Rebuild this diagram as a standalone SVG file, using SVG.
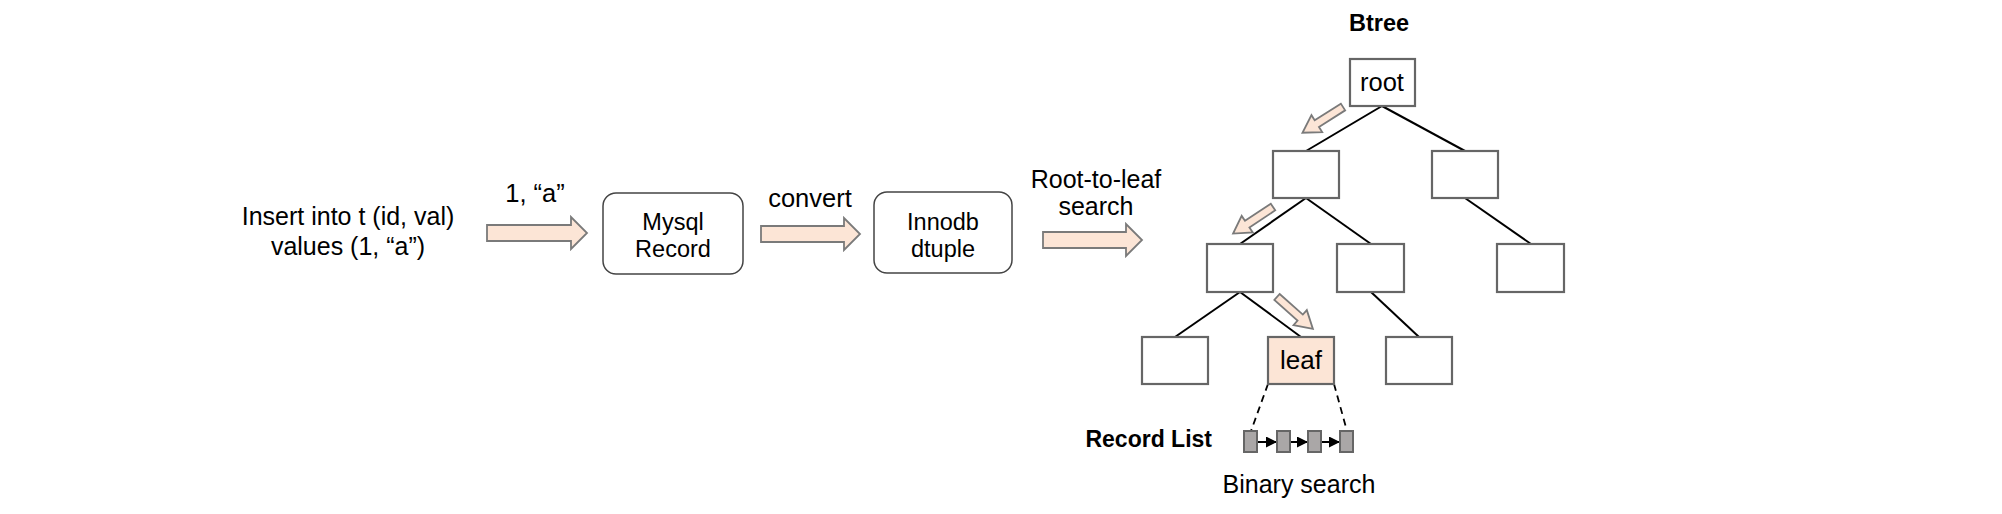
<svg xmlns="http://www.w3.org/2000/svg" width="2002" height="514" viewBox="0 0 2002 514">
<style>
text{font-family:"Liberation Sans",Arial,sans-serif;fill:#000}
.t25{font-size:25px}
.t255{font-size:25.5px}
.box{font-size:23.5px}
.b{font-weight:bold;font-size:23.5px}
.blk{fill:#fce5d6;stroke:#7a7a7a;stroke-width:1.8;stroke-linejoin:miter}
.rbox{fill:#fff;stroke:#444;stroke-width:1.5}
.tbox{fill:#fff;stroke:#666;stroke-width:2.2}
.edge{stroke:#000;stroke-width:2;fill:none}
.dash{stroke:#000;stroke-width:1.8;stroke-dasharray:7,5;fill:none}
.rec{fill:#aaa7a7;stroke:#666;stroke-width:2}
</style>
<defs>
<path id="small" d="M0,-4 L31,-4 L31,-10 L48,0 L31,10 L31,4 L0,4 Z"/>
<marker id="ah" viewBox="0 0 10 10" refX="10" refY="5" markerWidth="11" markerHeight="11" markerUnits="userSpaceOnUse" orient="auto">
<path d="M0,0 L10,5 L0,10 Z" fill="#000"/>
</marker>
</defs>

<g id="insert-text">
<text class="t25" x="348" y="225" text-anchor="middle">Insert into t (id, val)</text>
<text class="t25" x="348" y="255" text-anchor="middle">values (1, “a”)</text>
</g>

<g id="mysql-record">
<rect class="rbox" x="603" y="193" width="140" height="81" rx="13"/>
<text class="box" x="673" y="230" text-anchor="middle">Mysql</text>
<text class="box" x="673" y="257" text-anchor="middle">Record</text>
</g>

<g id="innodb-dtuple">
<rect class="rbox" x="874" y="192" width="138" height="81" rx="13"/>
<text class="box" x="943" y="230" text-anchor="middle">Innodb</text>
<text class="box" x="943" y="257" text-anchor="middle">dtuple</text>
</g>

<g id="connectors">
<path class="blk" d="M487,225 L571,225 L571,217 L587,233 L571,249 L571,241 L487,241 Z"/>
<text class="t255" x="535" y="202" text-anchor="middle">1, “a”</text>
<path class="blk" d="M761,226 L844,226 L844,218 L860,234 L844,250 L844,242 L761,242 Z"/>
<text class="t255" x="810" y="207" text-anchor="middle">convert</text>
<path class="blk" d="M1043,232 L1126,232 L1126,224 L1142,240 L1126,256 L1126,248 L1043,248 Z"/>
<text class="t25" x="1096" y="188" text-anchor="middle">Root-to-leaf</text>
<text class="t25" x="1096" y="215" text-anchor="middle">search</text>

<line class="edge" x1="1382" y1="106" x2="1306" y2="151"/>
<line class="edge" x1="1382" y1="106" x2="1465" y2="151"/>
<line class="edge" x1="1306" y1="198" x2="1240" y2="244"/>
<line class="edge" x1="1306" y1="198" x2="1371" y2="244"/>
<line class="edge" x1="1465" y1="198" x2="1531" y2="244"/>
<line class="edge" x1="1240" y1="292" x2="1175" y2="337"/>
<line class="edge" x1="1240" y1="292" x2="1301" y2="337"/>
<line class="edge" x1="1371" y1="292" x2="1419" y2="337"/>

<use href="#small" class="blk" transform="translate(1343,107) rotate(147.6)"/>
<use href="#small" class="blk" transform="translate(1273,207) rotate(146.3)"/>
<use href="#small" class="blk" transform="translate(1277,297) rotate(41.6)"/>

<line class="dash" x1="1268" y1="384" x2="1251" y2="431"/>
<line class="dash" x1="1334" y1="384" x2="1347" y2="431"/>

<line class="edge" x1="1257" y1="442" x2="1277" y2="442" marker-end="url(#ah)"/>
<line class="edge" x1="1290" y1="442" x2="1308" y2="442" marker-end="url(#ah)"/>
<line class="edge" x1="1321" y1="442" x2="1340" y2="442" marker-end="url(#ah)"/>
</g>

<g id="btree-title"><text class="b" x="1379" y="31" text-anchor="middle">Btree</text></g>

<g id="node-root">
<rect class="tbox" x="1350" y="59" width="65" height="47"/>
<text class="t255" x="1382" y="91" text-anchor="middle">root</text>
</g>
<g id="node-l2a"><rect class="tbox" x="1273" y="151" width="66" height="47"/></g>
<g id="node-l2b"><rect class="tbox" x="1432" y="151" width="66" height="47"/></g>
<g id="node-l3a"><rect class="tbox" x="1207" y="244" width="66" height="48"/></g>
<g id="node-l3b"><rect class="tbox" x="1337" y="244" width="67" height="48"/></g>
<g id="node-l3c"><rect class="tbox" x="1497" y="244" width="67" height="48"/></g>
<g id="node-l4a"><rect class="tbox" x="1142" y="337" width="66" height="47"/></g>
<g id="node-leaf">
<rect class="tbox" x="1268" y="337" width="66" height="47" style="fill:#fce5d6"/>
<text x="1301" y="369" text-anchor="middle" style="font-size:26px">leaf</text>
</g>
<g id="node-l4c"><rect class="tbox" x="1386" y="337" width="66" height="47"/></g>

<g id="record-list">
<text class="b" x="1212" y="447" text-anchor="end" style="font-size:23px">Record List</text>
<rect class="rec" x="1244" y="431" width="13" height="21"/>
<rect class="rec" x="1277" y="431" width="13" height="21"/>
<rect class="rec" x="1308" y="431" width="13" height="21"/>
<rect class="rec" x="1340" y="431" width="13" height="21"/>
<text class="t25" x="1299" y="493" text-anchor="middle">Binary search</text>
</g>
</svg>
